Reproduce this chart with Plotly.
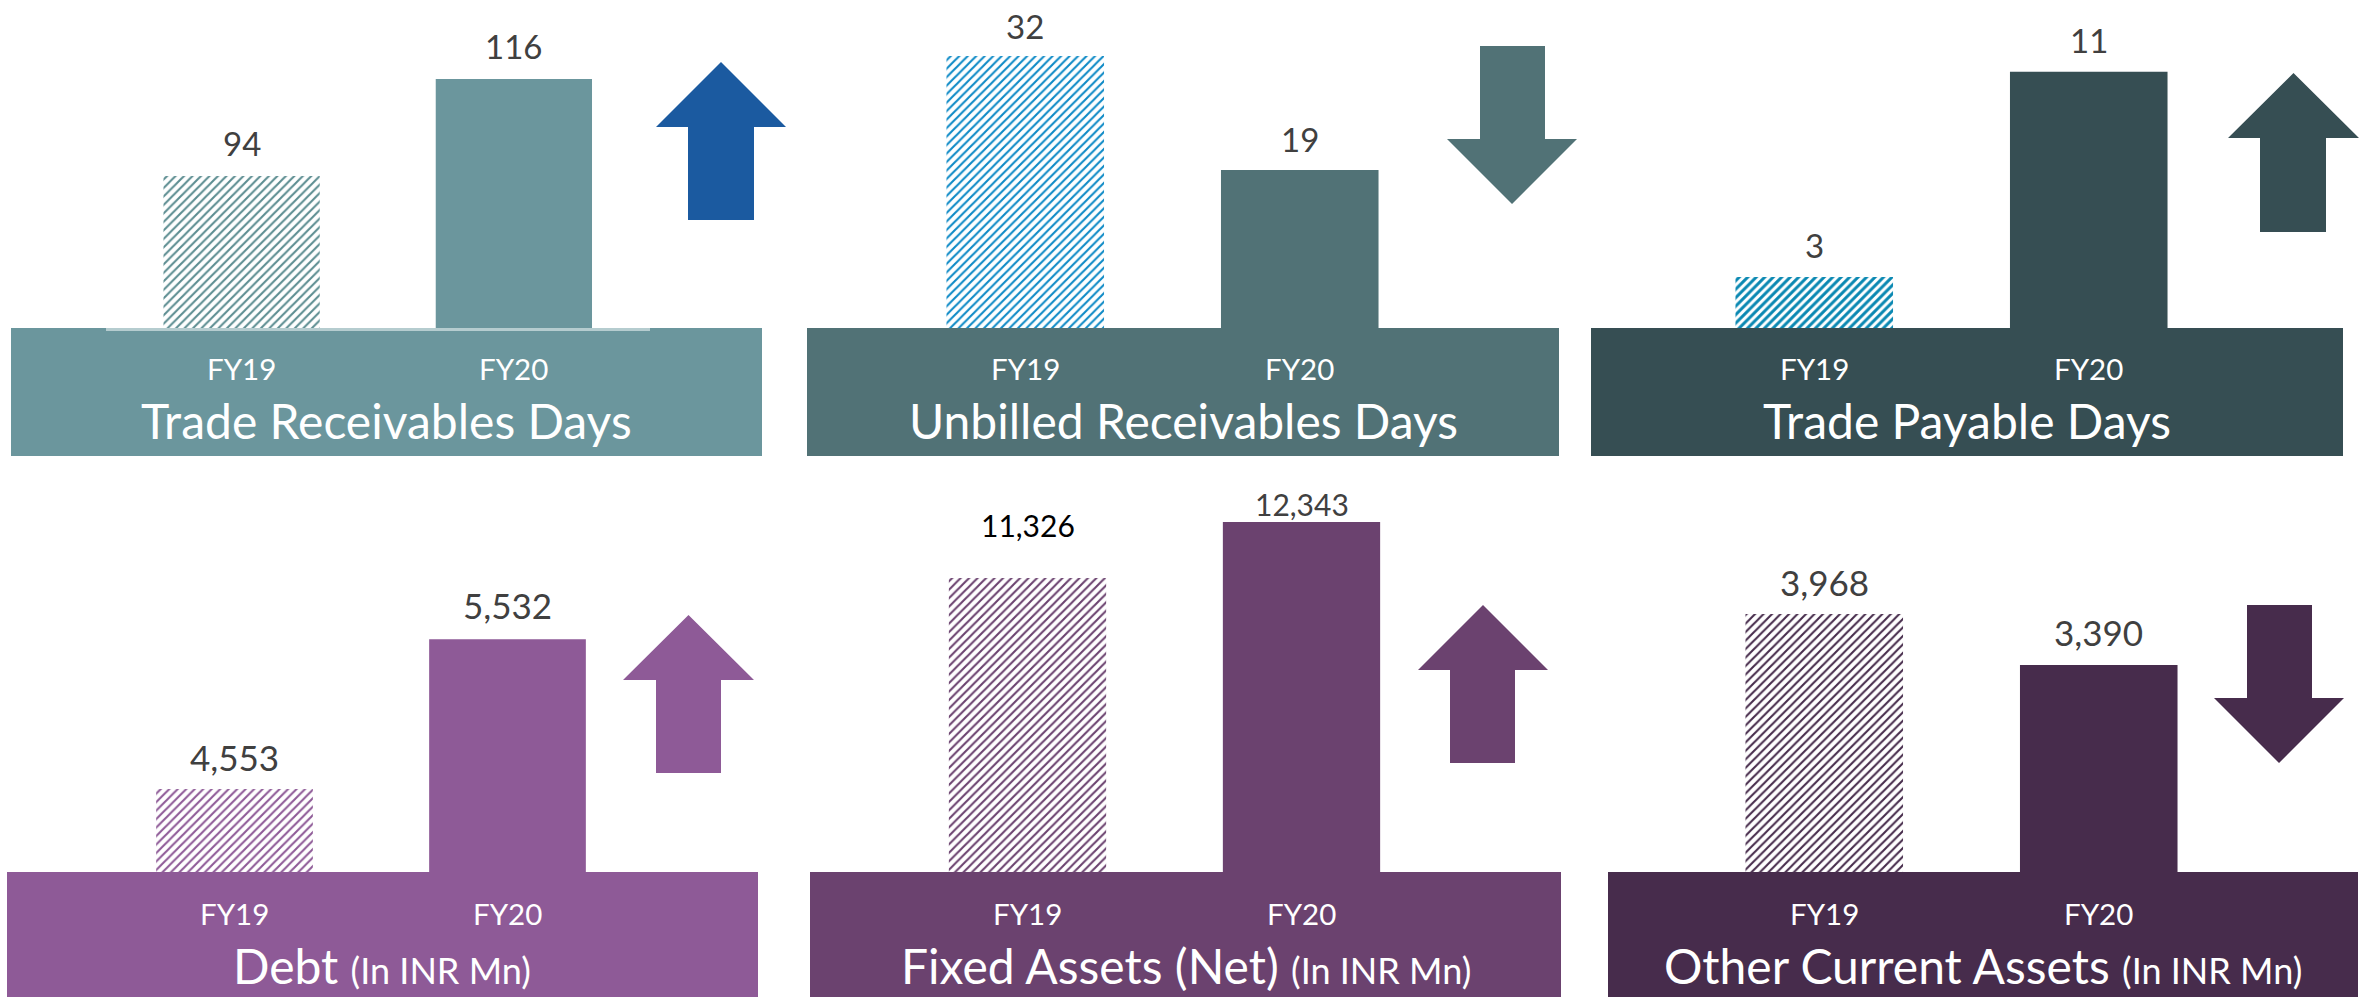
import plotly.graph_objects as go

W, H = 2369, 997

# ---------------- data ----------------
categories = ["FY19", "FY20"]
titles = ["Trade Receivables Days", "Unbilled Receivables Days", "Trade Payable Days",
          "Debt", "Fixed Assets (Net)", "Other Current Assets"]
units = ["", "", "", "(In INR Mn)", "(In INR Mn)", "(In INR Mn)"]
trade_receivables_days = [94, 116]
unbilled_receivables_days = [32, 19]
trade_payable_days = [3, 11]
debt = [4553, 5532]
fixed_assets_net = [11326, 12343]
other_current_assets = [3968, 3390]
series = [trade_receivables_days, unbilled_receivables_days, trade_payable_days,
          debt, fixed_assets_net, other_current_assets]
value_labels = [[f"{v:,}" for v in s] for s in series]

# ---------------- styling / layout (pixel geometry) ----------------
FONT = "Lato, Liberation Sans, Arial, sans-serif"
panels = [
    dict(main="#6B969D", hatch="#5C8D91", arrow="#1B5AA0", sol=0.35,
         box=(11, 762, 328, 456), xd=(105.5, 650), yd=(0, 328), yr=(59.5, 133.9),
         arr=(656, 786, 688, 754, 62, 220), vfs=33, dh=25, gaps=(20, 20), line=True),
    dict(main="#517276", hatch="#0E8AC6", arrow="#517276", sol=0.35,
         box=(807, 1559, 328, 456), xd=(888, 1437), yd=(0, 328), yr=(0.98, 38.4),
         arr=(1447, 1577, 1480, 1545, 46, 204), vfs=33, dh=25, gaps=(18, 19), line=False),
    dict(main="#364E53", hatch="#0A88B2", arrow="#364E53", sol=0.5,
         box=(1591, 2343, 328, 456), xd=(1677, 2226), yd=(0, 328), yr=(1.01, 13.8),
         arr=(2228, 2359, 2260, 2326, 73, 232), vfs=33, dh=25, gaps=(19, 19), line=False),
    dict(main="#8E5A97", hatch="#8E5A97", arrow="#8E5A97", sol=0.35,
         box=(7, 758, 872, 997), xd=(98, 644), yd=(470, 872), yr=(4012, 6636),
         arr=(623, 754, 656, 721, 615, 773), vfs=35, dh=27, gaps=(19, 21), line=False),
    dict(main="#6B426F", hatch="#6B426F", arrow="#6B426F", sol=0.35,
         box=(810, 1561, 872, 997), xd=(890.5, 1438.5), yd=(470, 872), yr=(5986, 13287),
         arr=(1418, 1548, 1450, 1515, 605, 763), vfs=30, dh=22, gaps=(42, 7), line=False),
    dict(main="#472C4C", hatch="#472C4C", arrow="#472C4C", sol=0.35,
         box=(1608, 2358, 872, 997), xd=(1687, 2236), yd=(470, 872), yr=(1044, 5600),
         arr=(2214, 2344, 2247, 2312, 605, 763), vfs=35, dh=26, gaps=(19, 20), line=False),
]
HEAD = 65  # arrow head height in px


def px(x):
    return x / W


def py(y):
    return 1 - y / H


fig = go.Figure()
shapes, annotations = [], []

for i, (p, vals) in enumerate(zip(panels, series)):
    n = "" if i == 0 else str(i + 1)
    xa, ya = "x" + n, "y" + n
    fig.add_trace(go.Bar(
        x=categories, y=vals, xaxis=xa, yaxis=ya, width=0.574,
        marker=dict(color=[p["hatch"], p["main"]], line=dict(width=0),
                    pattern=dict(shape=["/", ""], size=6, solidity=p["sol"],
                                 fgcolor=[p["hatch"], p["main"]],
                                 bgcolor=["#ffffff", p["main"]], fillmode="replace")),
        hoverinfo="skip", showlegend=False,
    ))
    fig.update_layout(**{
        ("xaxis" + n): dict(domain=[px(p["xd"][0]), px(p["xd"][1])], anchor=ya,
                            range=[-0.5, 1.5], showticklabels=False, showgrid=False,
                            zeroline=False, showline=p["line"], linecolor="#B5CCCF",
                            linewidth=3, fixedrange=True),
        ("yaxis" + n): dict(domain=[py(p["yd"][1]), py(p["yd"][0])], anchor=xa,
                            range=list(p["yr"]), showticklabels=False, showgrid=False,
                            zeroline=False, fixedrange=True),
    })
    # base box
    bx0, bx1, by0, by1 = p["box"]
    shapes.append(dict(type="rect", xref="paper", yref="paper", layer="below",
                       x0=px(bx0), x1=px(bx1), y0=py(by1), y1=py(by0),
                       fillcolor=p["main"], line=dict(width=0)))
    # trend arrow (direction from data)
    hx0, hx1, sx0, sx1, atop, abot = p["arr"]
    if vals[1] >= vals[0]:
        yh, ys, yt = atop, atop + HEAD, abot
    else:
        yh, ys, yt = abot, abot - HEAD, atop
    hc = (hx0 + hx1) / 2
    path = (f"M{px(sx0)},{py(yt)} L{px(sx1)},{py(yt)} L{px(sx1)},{py(ys)} "
            f"L{px(hx1)},{py(ys)} L{px(hc)},{py(yh)} L{px(hx0)},{py(ys)} "
            f"L{px(sx0)},{py(ys)} Z")
    shapes.append(dict(type="path", xref="paper", yref="paper", path=path,
                       fillcolor=p["arrow"], line=dict(width=0)))
    # value labels
    for j, (c, v) in enumerate(zip(categories, vals)):
        col = "#000000" if (i == 4 and j == 0) else "#404040"
        annotations.append(dict(x=c, y=v, xref=xa, yref=ya, text=value_labels[i][j],
                                showarrow=False, yanchor="middle", xanchor="center",
                                yshift=p["gaps"][j] + p["dh"] / 2,
                                font=dict(family=FONT, size=p["vfs"], color=col)))
    # category labels
    fy = 368 if i < 3 else 913
    ty = 420 if i < 3 else 965
    for c in categories:
        annotations.append(dict(x=c, y=py(fy), xref=xa, yref="paper", text=c,
                                showarrow=False, yanchor="middle", xanchor="center",
                                font=dict(family=FONT, size=29.5, color="#FFFFFF")))
    # panel title
    t = titles[i]
    if units[i]:
        t += f" <span style='font-size:36px'>{units[i]}</span>"
    annotations.append(dict(x=px((bx0 + bx1) / 2), y=py(ty), xref="paper", yref="paper",
                            text=t, showarrow=False, yanchor="middle", xanchor="center",
                            font=dict(family=FONT, size=48, color="#FFFFFF")))

fig.update_layout(width=W, height=H, margin=dict(l=0, r=0, t=0, b=0),
                  paper_bgcolor="#FFFFFF", plot_bgcolor="rgba(0,0,0,0)",
                  shapes=shapes, annotations=annotations, showlegend=False)

fig.write_html("out.html", config={"displayModeBar": False})
